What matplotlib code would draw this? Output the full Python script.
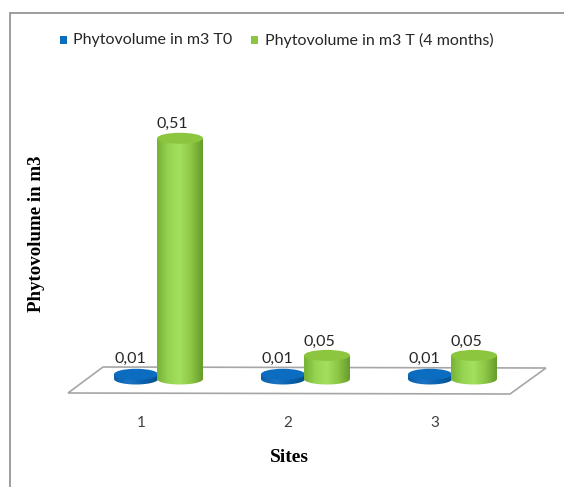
import numpy as np
import matplotlib
matplotlib.use("Agg")
import matplotlib.pyplot as plt
from matplotlib.patches import Ellipse, PathPatch, Polygon, Rectangle
from matplotlib.path import Path
from matplotlib.colors import LinearSegmentedColormap

sites = ["1", "2", "3"]
t0_values = [0.01, 0.01, 0.01]
t4_values = [0.51, 0.05, 0.05]
t0_labels = ["0,01", "0,01", "0,01"]
t4_labels = ["0,51", "0,05", "0,05"]
series_names = ["Phytovolume in m3 T0", "Phytovolume in m3 T (4 months)"]

W, H = 564, 487
fig = plt.figure(figsize=(W / 100, H / 100), dpi=100)
ax = fig.add_axes([0, 0, 1, 1])

# pixel layout -> data scale (category units on x, m3 on y)
CAT_PX, CAT0_PX = 147, 141
UNIT_PX, BASE_PY = 472, 379
ax.set_xlim(1 - CAT0_PX / CAT_PX, 1 + (W - CAT0_PX) / CAT_PX)
ax.set_ylim((BASE_PY - H) / UNIT_PX, BASE_PY / UNIT_PX)
ax.axis("off")

px = 1 / CAT_PX     # one pixel in x data units
py = 1 / UNIT_PX    # one pixel in y data units

# outer chart border (left and top only visible)
fig.add_artist(Rectangle((10 / W, -0.1), 1.2, 1.1 - 13 / H, transform=fig.transFigure,
                         fill=False, ec="#8c8c8c", lw=1.2))

# floor
floor = Polygon([(1 - 73 * px, -14 * py), (1 + 369 * px, -15 * py),
                 (1 + 405 * px, 11 * py), (1 - 38 * px, 12 * py)],
                closed=True, fc="white", ec="#a6a6a6", lw=1.2, zorder=1)
ax.add_patch(floor)

green_cm = LinearSegmentedColormap.from_list(
    "g", ["#78b236", "#96d452", "#a3e05e", "#8cc644", "#689c2c"])
blue_cm = LinearSegmentedColormap.from_list(
    "b", ["#0a5fa8", "#1a74c4", "#0b63ae", "#04508f"])


def cylinder(xc, value, width, cmap, top_color, eh, z):
    x0, x1 = xc - width / 2, xc + width / 2
    t = np.linspace(np.pi, 2 * np.pi, 40)
    arc = np.column_stack([xc + width / 2 * np.cos(t), eh / 2 * np.sin(t)])
    verts = np.vstack([[x0, value], arc, [x1, value], [x0, value]])
    body = PathPatch(Path(verts, closed=True), fc="none", ec="none", zorder=z)
    ax.add_patch(body)
    grad = np.linspace(0, 1, 64).reshape(1, -1)
    im = ax.imshow(grad, cmap=cmap, extent=(x0, x1, -eh / 2, value + eh / 2),
                   aspect="auto", zorder=z, interpolation="bilinear")
    im.set_clip_path(body)
    ax.add_patch(Ellipse((xc, value), width, eh, fc=top_color, ec="none", zorder=z + 0.1))


x = np.arange(1, len(sites) + 1)
bw = 44 * px
eh = 11 * py
for i in range(len(sites)):
    xb = x[i] - 5 * px
    xg = x[i] + 39 * px
    cylinder(xb, t0_values[i], bw, blue_cm, "#0b6cc0", eh, 3)
    cylinder(xg, t4_values[i], 46 * px, green_cm, "#8cc63f", eh, 4)
    ax.text(xb - 6 * px, t0_values[i] + 8 * py, t0_labels[i], ha="center", va="bottom",
            fontsize=11.5, family="Lato", color="#262626", zorder=6)
    ax.text(xg - 8 * px, t4_values[i] + 7 * py, t4_labels[i], ha="center", va="bottom",
            fontsize=11.5, family="Lato", color="#262626", zorder=6)
    ax.text(x[i], -44 * py, sites[i], ha="center", va="center",
            fontsize=11, family="Lato", color="#404040")

# axis titles
fig.text(37 / W, 1 - 234 / H, "Phytovolume in m3", rotation=90, ha="center", va="center",
         fontsize=13.6, family="Liberation Serif", weight="bold")
fig.text(289 / W, 1 - 458 / H, "Sites", ha="center", va="center",
         fontsize=14, family="Liberation Serif", weight="bold")

# legend
leg_y = 1 - 40 / H
fig.add_artist(Rectangle((60 / W, leg_y - 3.5 / H), 7 / W, 7 / H, transform=fig.transFigure,
                         fc="#0b6cc0", ec="none"))
fig.text(73 / W, leg_y, series_names[0], ha="left", va="center", fontsize=11.5,
         family="Lato", color="#262626")
fig.add_artist(Rectangle((251 / W, leg_y - 3.5 / H), 7 / W, 7 / H, transform=fig.transFigure,
                         fc="#8cc63f", ec="none"))
fig.text(265 / W, leg_y, series_names[1], ha="left", va="center", fontsize=11.5,
         family="Lato", color="#262626")

fig.savefig("out.png", dpi=100)
